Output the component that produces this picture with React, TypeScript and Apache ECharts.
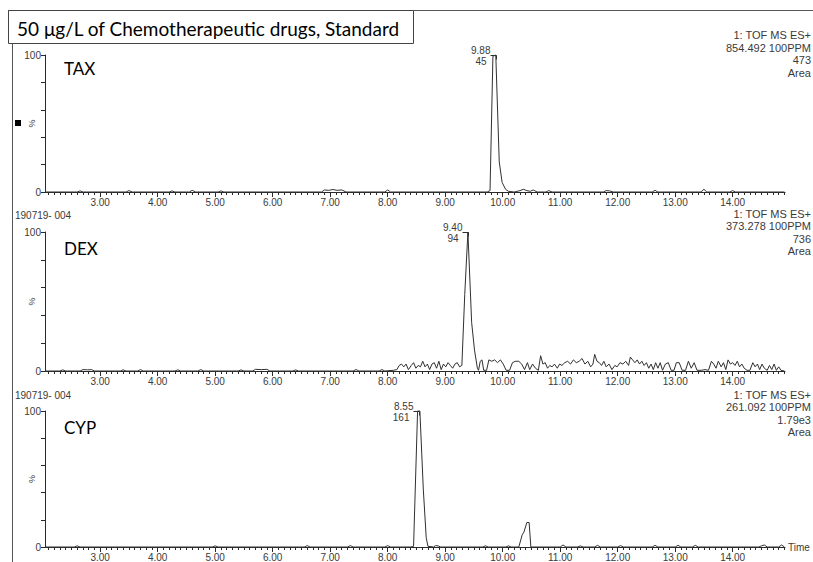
import { useEffect, useRef } from "react";
import * as echarts from "echarts";

const TITLE = "50 μg/L of Chemotherapeutic drugs, Standard";
const compounds = ["TAX", "DEX", "CYP"];
const sampleId = "190719- 004";
const headerLines = [
  ["1: TOF MS ES+", "854.492 100PPM", "473", "Area"],
  ["1: TOF MS ES+", "373.278 100PPM", "736", "Area"],
  ["1: TOF MS ES+", "261.092 100PPM", "1.79e3", "Area"],
];
const peakTimes = [9.88, 9.4, 8.55];
const peakAreas = ["45", "94", "161"];
const majorTicks = [3, 4, 5, 6, 7, 8, 9, 10, 11, 12, 13, 14];
const yTicks = [0, 20, 40, 60, 80, 100];
const X_MIN = 2.04;
const X_MAX = 14.91;

const taxPoints: [number, number][] = [
  [2.04, 0], [2.6, 0], [2.65, 0.8], [2.7, 0], [3.45, 0], [3.5, 1], [3.56, 0], [4.2, 0], [4.25, 0.8], [4.3, 0],
  [4.55, 0], [4.6, 1.2], [4.66, 0], [5.05, 0], [5.1, 0.8], [5.15, 0], [6.85, 0], [6.9, 1.5], [6.97, 1.2], [7.05, 1.8],
  [7.12, 1.2], [7.2, 1.5], [7.28, 0], [7.95, 0], [8.0, 1.5], [8.05, 0], [9.73, 0], [9.78, 1], [9.83, 99], [9.88, 100],
  [9.94, 22], [9.99, 7], [10.05, 2], [10.1, 0.5], [10.2, 0], [10.3, 1], [10.36, 2], [10.42, 1], [10.48, 0.5], [10.53, 1.5],
  [10.6, 0], [10.75, 0], [10.8, 1], [10.86, 0], [11.75, 0], [11.8, 1], [11.86, 0.8], [11.92, 0], [12.6, 0], [12.65, 1.2],
  [12.7, 0], [13.45, 0], [13.5, 2], [13.55, 0], [13.95, 0], [14.0, 1], [14.05, 0], [14.9, 0],
];

const dexPoints: [number, number][] = [
  [2.04, 0], [2.3, 0], [2.35, 0.8], [2.4, 0], [2.65, 0], [2.7, 1], [2.78, 0.8], [2.85, 1], [2.9, 0], [3.35, 0],
  [3.4, 0.8], [3.45, 0], [3.65, 0], [3.7, 1], [3.75, 0], [4.3, 0], [4.35, 0.8], [4.4, 0], [4.7, 0], [4.75, 1],
  [4.8, 0], [5.4, 0], [5.45, 0.8], [5.5, 0], [5.65, 0], [5.7, 1.2], [5.8, 1], [5.9, 1.2], [5.95, 0], [6.35, 0],
  [6.4, 0.8], [6.45, 0], [7.4, 0], [7.45, 1], [7.5, 0], [7.85, 0], [7.9, 1], [7.95, 0], [8.1, 0.5], [8.16, 1],
  [8.2, 4], [8.24, 5], [8.28, 3], [8.32, 5], [8.36, 1], [8.41, 4], [8.45, 6], [8.49, 2], [8.53, 4], [8.57, 3],
  [8.61, 7], [8.65, 3], [8.69, 5], [8.73, 1], [8.77, 5], [8.81, 6], [8.85, 2], [8.89, 7], [8.93, 1], [8.97, 5],
  [9.01, 3], [9.05, 6], [9.09, 4], [9.13, 2], [9.17, 5], [9.21, 6], [9.25, 3], [9.29, 4], [9.34, 55], [9.395, 100],
  [9.46, 35], [9.51, 15], [9.56, 2], [9.58, 0.5], [9.61, 7], [9.64, 8], [9.67, 0.5], [9.72, 0.5], [9.76, 8], [9.81, 7],
  [9.86, 8], [9.91, 6], [9.96, 8], [10.01, 5], [10.06, 0.5], [10.12, 0.5], [10.17, 6], [10.22, 7], [10.28, 7], [10.33, 5],
  [10.38, 1], [10.43, 6], [10.47, 1], [10.52, 5], [10.57, 2], [10.62, 0.5], [10.66, 11], [10.7, 5], [10.74, 6], [10.78, 2],
  [10.82, 4], [10.86, 3], [10.9, 5], [10.95, 2], [10.99, 5], [11.03, 4], [11.08, 6], [11.13, 7], [11.18, 5], [11.23, 8],
  [11.28, 6], [11.33, 7], [11.38, 9], [11.43, 5], [11.48, 7], [11.53, 3], [11.57, 5], [11.6, 12], [11.64, 7], [11.68, 6],
  [11.72, 4], [11.76, 7], [11.8, 3], [11.85, 5], [11.9, 1], [11.95, 4], [11.99, 3], [12.04, 6], [12.09, 5], [12.14, 7],
  [12.19, 4], [12.22, 10], [12.26, 8], [12.3, 6], [12.34, 8], [12.38, 5], [12.42, 7], [12.46, 4], [12.5, 6], [12.54, 2],
  [12.58, 5], [12.62, 1], [12.66, 6], [12.7, 2], [12.74, 6], [12.78, 0.5], [12.83, 5], [12.88, 6], [12.93, 0.5], [12.98, 0.5],
  [13.02, 6], [13.07, 6], [13.12, 0.5], [13.18, 0.5], [13.23, 7], [13.28, 2], [13.33, 6], [13.38, 0.5], [13.45, 0.5], [13.52, 1],
  [13.58, 0.5], [13.63, 7], [13.67, 5], [13.71, 2], [13.75, 7], [13.8, 3], [13.84, 6], [13.88, 1], [13.92, 8], [13.96, 5],
  [14.0, 6], [14.04, 4], [14.08, 7], [14.12, 3], [14.16, 5], [14.2, 2], [14.25, 0.5], [14.3, 0.5], [14.35, 6], [14.39, 3],
  [14.43, 5], [14.47, 1], [14.51, 5], [14.55, 2], [14.6, 0.5], [14.64, 4], [14.68, 1], [14.72, 5], [14.76, 0.5], [14.8, 3],
  [14.84, 0.5], [14.9, 0],
];

const cypPoints: [number, number][] = [
  [2.04, 0], [2.55, 0], [2.6, 0.8], [2.65, 0], [4.95, 0], [5.0, 0.8], [5.05, 0], [6.55, 0], [6.6, 1], [6.65, 0],
  [7.3, 0], [7.35, 1], [7.4, 0], [7.95, 0], [8.0, 1], [8.05, 0], [8.4, 0], [8.45, 0.5], [8.52, 100], [8.56, 100],
  [8.62, 42], [8.67, 7], [8.7, 0.5], [8.8, 0], [8.83, 1], [8.88, 0.8], [8.92, 0], [9.65, 0], [9.7, 0.8], [9.75, 0],
  [10.05, 0], [10.1, 0.8], [10.15, 0], [10.28, 0], [10.34, 9], [10.37, 11], [10.42, 18], [10.46, 18], [10.49, 0], [11.0, 0],
  [11.05, 1.5], [11.1, 0], [11.3, 0], [11.35, 0.8], [11.4, 0], [11.6, 0], [11.65, 1.2], [11.7, 0], [12.0, 0], [12.05, 1],
  [12.1, 0], [12.6, 0], [12.65, 1.2], [12.7, 0], [13.0, 0], [13.05, 1.2], [13.1, 0], [13.3, 0], [13.35, 1.2], [13.4, 0],
  [14.45, 0], [14.5, 0.8], [14.55, 1.5], [14.6, 0], [14.8, 0], [14.85, 1.5], [14.9, 0],
];

const seriesData = [taxPoints, dexPoints, cypPoints];

// layout
const GRID_LEFT = 45;
const GRID_WIDTH = 740;
const gridTops = [55, 232, 411];
const gridHeights = [137, 139, 138];
const headerY = [[35, 48, 60, 73], [214, 226, 239, 251], [395, 407, 420, 432]];
const labelY = [68, 248, 427];
const sampleY = [215, 395];

const AX = "#2a2a2a";
const TXT = "#3a3a3a";
const SANS = "'Liberation Sans', Arial, sans-serif";

function minorTickValues(): number[] {
  const out: number[] = [];
  for (let k = 21; k <= 149; k++) out.push(k / 10);
  return out;
}

export default function App() {
  const ref = useRef<HTMLDivElement>(null);
  useEffect(() => {
    const chart = echarts.init(ref.current!, null, { renderer: "svg" });
    const minors = minorTickValues();
    const grids = gridTops.map((top, i) => ({
      left: GRID_LEFT,
      width: GRID_WIDTH,
      top,
      height: gridHeights[i],
    }));
    const xMain = [0, 1, 2].map((i) => ({
      type: "value",
      gridIndex: i,
      min: X_MIN,
      max: X_MAX,
      position: "bottom",
      name: i === 2 ? "Time" : "",
      nameLocation: "end",
      nameGap: 3,
      nameMoveOverlap: false,
      nameTextStyle: { color: TXT, fontSize: 10, fontFamily: SANS },
      axisLine: { show: true, lineStyle: { color: AX, width: 1 } },
      axisTick: { show: true, length: 5, customValues: majorTicks, lineStyle: { color: AX } },
      axisLabel: {
        show: true,
        customValues: majorTicks,
        formatter: (v: number) => v.toFixed(2),
        color: TXT,
        fontSize: 10,
        fontFamily: SANS,
        margin: 5,
      },
      splitLine: { show: false },
    }));
    const xMinor = [0, 1, 2].map((i) => ({
      type: "value",
      gridIndex: i,
      min: X_MIN,
      max: X_MAX,
      position: "bottom",
      axisLine: { show: false },
      axisTick: { show: true, length: 3, customValues: minors, lineStyle: { color: AX } },
      axisLabel: { show: false },
      splitLine: { show: false },
    }));
    const yAxes = [0, 1, 2].map((i) => ({
      type: "value",
      gridIndex: i,
      min: 0,
      max: 100,
      interval: 20,
      name: "%",
      nameLocation: "middle",
      nameGap: 9,
      nameMoveOverlap: false,
      nameTextStyle: { color: TXT, fontSize: 9, fontFamily: SANS },
      axisLine: { show: true, lineStyle: { color: AX, width: 1 } },
      axisTick: { show: true, length: 4, lineStyle: { color: AX } },
      axisLabel: {
        color: TXT,
        fontSize: 10,
        fontFamily: SANS,
        margin: 4,
        formatter: (v: number) => (v === yTicks[0] || v === yTicks[yTicks.length - 1] ? String(v) : ""),
      },
      splitLine: { show: false },
    }));
    const series = seriesData.map((d, i) => ({
      type: "line",
      name: compounds[i],
      xAxisIndex: i,
      yAxisIndex: i,
      data: d,
      showSymbol: false,
      symbol: "none",
      clip: false,
      lineStyle: { color: "#303030", width: 1 },
    }));
    chart.setOption({
      animation: false,
      backgroundColor: "#ffffff",
      grid: grids,
      xAxis: [...xMain, ...xMinor],
      yAxis: yAxes,
      series,
    });

    const g: any[] = [];
    // slide frame
    g.push({ type: "line", shape: { x1: 8, y1: 10.5, x2: 813, y2: 10.5 }, style: { stroke: "#555", lineWidth: 1 } });
    g.push({ type: "line", shape: { x1: 12.5, y1: 43, x2: 12.5, y2: 562 }, style: { stroke: "#555", lineWidth: 1 } });
    g.push({
      type: "rect",
      shape: { x: 8.5, y: 10.5, width: 405, height: 33 },
      style: { fill: "#fff", stroke: "#444", lineWidth: 1 },
    });
    g.push({
      type: "text",
      x: 17,
      y: 28,
      style: { text: TITLE, font: "19px Lato", fill: "#000", align: "left", verticalAlign: "middle" },
    });
    g.push({ type: "rect", shape: { x: 15, y: 120, width: 6, height: 6 }, style: { fill: "#000" } });
    compounds.forEach((c, i) => {
      g.push({
        type: "text",
        x: 64,
        y: labelY[i],
        style: { text: c, font: "17px Lato", fill: "#000", align: "left", verticalAlign: "middle" },
      });
    });
    sampleY.forEach((y) => {
      g.push({
        type: "text",
        x: 15,
        y,
        style: { text: sampleId, font: `10px ${SANS}`, fill: TXT, align: "left", verticalAlign: "middle" },
      });
    });
    headerLines.forEach((lines, i) => {
      lines.forEach((t, k) => {
        g.push({
          type: "text",
          x: 811,
          y: headerY[i][k],
          style: { text: t, font: `11px ${SANS}`, fill: TXT, align: "right", verticalAlign: "middle" },
        });
      });
    });
    peakTimes.forEach((t, i) => {
      const p = chart.convertToPixel({ xAxisIndex: i, yAxisIndex: i }, [t, 100]) as number[];
      const px = Math.round(p[0]) + 0.5;
      const py = Math.round(p[1]) + 0.5;
      g.push({
        type: "polyline",
        shape: { points: [[px - 6, py], [px, py], [px, py + 4]] },
        style: { stroke: "#303030", lineWidth: 1, fill: "none" },
      });
      g.push({
        type: "text",
        x: px - 6,
        y: py - 5,
        style: { text: t.toFixed(2), font: `10px ${SANS}`, fill: TXT, align: "right", verticalAlign: "middle" },
      });
      g.push({
        type: "text",
        x: px - 10,
        y: py + 6,
        style: { text: peakAreas[i], font: `10px ${SANS}`, fill: TXT, align: "right", verticalAlign: "middle" },
      });
    });
    chart.setOption({ graphic: { elements: g } });
    return () => chart.dispose();
  }, []);
  return (
    <div
      ref={ref}
      style={{ position: "absolute", left: 0, top: 0, width: 813, height: 562, background: "#fff", overflow: "hidden" }}
    />
  );
}
